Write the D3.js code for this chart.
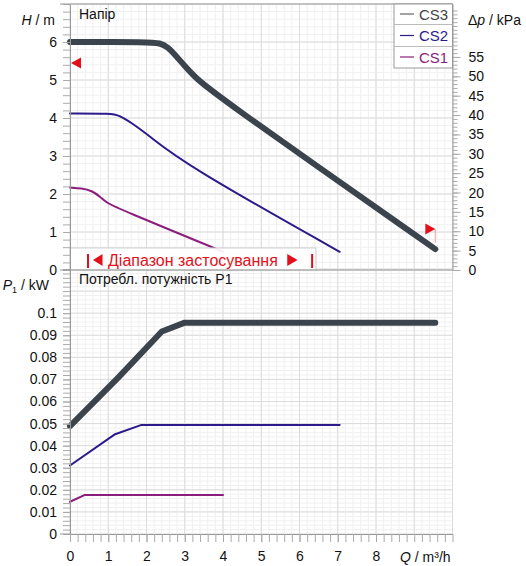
<!DOCTYPE html>
<html>
<head>
<meta charset="utf-8">
<script src="https://cdn.jsdelivr.net/npm/d3@7"></script>
<style>
  body { margin: 0; background: #fff; }
  text { font-family: "Liberation Sans", Arial, sans-serif; fill: #111; }
  .axis .domain { stroke: #999; }
  .axis line { stroke: #aaa; }
  .axis text { font-size: 14px; fill: #111; }
</style>
</head>
<body>
<script>
// series
const seriesNames = ["CS3", "CS2", "CS1"];
const seriesColors = ["#3b444c", "#2b1a8a", "#8b1d7d"];
const seriesWidths = [6, 2, 2];

// head curves H(Q)
const cs3HeadQ = [0, 2.09, 2.35, 2.55, 2.8, 3.0, 3.25, 3.6, 9.55];
const cs3HeadH = [6.0, 6.0, 5.97, 5.88, 5.6, 5.37, 5.1, 4.75, 0.55];
const cs2HeadQ = [0, 1.09, 1.3, 1.57, 2.05, 3.0, 7.05];
const cs2HeadH = [4.12, 4.12, 4.06, 3.9, 3.55, 2.78, 0.48];
const cs1HeadQ = [0, 0.3, 0.57, 0.8, 0.96, 1.26, 4.0];
const cs1HeadH = [2.17, 2.15, 2.09, 1.92, 1.77, 1.62, 0.48];

// power curves P1(Q)
const cs3PowerQ = [0, 1.26, 2.4, 3.0, 9.55];
const cs3PowerP = [0.0488, 0.0708, 0.0917, 0.0957, 0.0957];
const cs2PowerQ = [0, 1.18, 1.87, 7.05];
const cs2PowerP = [0.031, 0.0452, 0.0494, 0.0494];
const cs1PowerQ = [0, 0.39, 4.0];
const cs1PowerP = [0.0146, 0.0177, 0.0177];

// range markers (red arrows)
const markerQ = [0, 9.55];
const markerH = [5.45, 1.08];

// ticks
const qTicks = [0, 1, 2, 3, 4, 5, 6, 7, 8];
const headTicks = [0, 1, 2, 3, 4, 5, 6];
const dpTicks = [0, 5, 10, 15, 20, 25, 30, 35, 40, 45, 50, 55];
const powerTicks = [0, 0.01, 0.02, 0.03, 0.04, 0.05, 0.06, 0.07, 0.08, 0.09, 0.1];
const powerTickLabels = ["0", "0.01", "0.02", "0.03", "0.04", "0.05", "0.06", "0.07", "0.08", "0.09", "0.1"];

let width = 526, height = 566;

let svg = d3.select('body')
  .append('svg')
  .attr('width', width)
  .attr('height', height);

// scales
const x = d3.scaleLinear().domain([0, 10]).range([70, 452.5]);
const yH = d3.scaleLinear().domain([0, 7]).range([270, 4]);
const yDp = d3.scaleLinear().domain([0, 7 * 9.81]).range([270, 4]);
const yP = d3.scaleLinear().domain([0, 0.12]).range([534, 269]);

const minorQ = d3.range(0, 10.001, 0.2);
const minorH = d3.range(0, 7.001, 0.2);
const minorP = d3.range(0, 0.1201, 0.002);

// grids
function grid(yScale, minorY, majorY) {
  const g = svg.append("g");
  const [y0, y1] = yScale.range();
  g.selectAll(".mx").data(minorQ).enter().append("line")
    .attr("x1", d => x(d)).attr("x2", d => x(d))
    .attr("y1", y0).attr("y2", y1)
    .attr("stroke", "#f0f0f0");
  g.selectAll(".my").data(minorY).enter().append("line")
    .attr("x1", x(0)).attr("x2", x(10))
    .attr("y1", d => yScale(d)).attr("y2", d => yScale(d))
    .attr("stroke", "#f0f0f0");
  g.selectAll(".Mx").data(d3.range(0, 11, 1)).enter().append("line")
    .attr("x1", d => x(d)).attr("x2", d => x(d))
    .attr("y1", y0).attr("y2", y1)
    .attr("stroke", "#dcdcdc");
  g.selectAll(".My").data(majorY).enter().append("line")
    .attr("x1", x(0)).attr("x2", x(10))
    .attr("y1", d => yScale(d)).attr("y2", d => yScale(d))
    .attr("stroke", "#dcdcdc");
}
grid(yH, minorH, d3.range(0, 8, 1));
grid(yP, minorP, d3.range(0, 0.121, 0.01));

// curves (head curves are smoothed, power curves are polylines)
const headLine = d3.line().x(d => x(d[0])).y(d => yH(d[1])).curve(d3.curveBasis);
const powerLine = d3.line().x(d => x(d[0])).y(d => yP(d[1]));

const heads = [d3.zip(cs3HeadQ, cs3HeadH), d3.zip(cs2HeadQ, cs2HeadH), d3.zip(cs1HeadQ, cs1HeadH)];
const powers = [d3.zip(cs3PowerQ, cs3PowerP), d3.zip(cs2PowerQ, cs2PowerP), d3.zip(cs1PowerQ, cs1PowerP)];

heads.forEach((pts, i) => {
  svg.append("path").attr("d", headLine(pts))
    .attr("fill", "none").attr("stroke", seriesColors[i])
    .attr("stroke-width", seriesWidths[i])
    .attr("stroke-linecap", "round").attr("stroke-linejoin", "round");
});
powers.forEach((pts, i) => {
  svg.append("path").attr("d", powerLine(pts))
    .attr("fill", "none").attr("stroke", seriesColors[i])
    .attr("stroke-width", seriesWidths[i])
    .attr("stroke-linecap", "round").attr("stroke-linejoin", "round");
});

// application range box
svg.append("rect")
  .attr("x", x(0)).attr("y", yH(0.58))
  .attr("width", x(6.43) - x(0)).attr("height", yH(0) - yH(0.58))
  .attr("fill", "#fff").attr("fill-opacity", 0.92)
  .attr("stroke", "#ccc");
[0.47, 6.33].forEach(q => {
  svg.append("line")
    .attr("x1", x(q)).attr("x2", x(q))
    .attr("y1", 254).attr("y2", 268)
    .attr("stroke", "#e3101b").attr("stroke-width", 2);
});
svg.append("path")
  .attr("d", `M${x(0.6)},260 L${x(0.85)},254 L${x(0.85)},266 Z`)
  .attr("fill", "#e3101b");
svg.append("path")
  .attr("d", `M${x(5.95)},260 L${x(5.68)},254 L${x(5.68)},266 Z`)
  .attr("fill", "#e3101b");
svg.append("text")
  .attr("x", 108).attr("y", 265.5)
  .style("font-size", "16px").style("fill", "#e3101b")
  .text("Діапазон застосування");

// red markers
svg.append("path")
  .attr("d", `M${x(markerQ[0]) + 1},${yH(markerH[0])} l10,-5.5 l0,11 Z`)
  .attr("fill", "#e3101b");
svg.append("line")
  .attr("x1", x(markerQ[1])).attr("x2", x(markerQ[1]))
  .attr("y1", yH(markerH[1])).attr("y2", yH(0.72))
  .attr("stroke", "#e88").attr("stroke-width", 0.8);
svg.append("path")
  .attr("d", `M${x(markerQ[1])},${yH(markerH[1])} l-10,-5.5 l0,11 Z`)
  .attr("fill", "#e3101b");

// axes
function styleAxis(g) { g.attr("class", "axis"); }

svg.append("g").call(styleAxis)
  .attr("transform", `translate(${x(0)},0)`)
  .call(d3.axisLeft(yH).tickValues(minorH).tickSize(7).tickSizeOuter(0).tickFormat(""));
svg.append("g").call(styleAxis)
  .attr("transform", `translate(${x(0)},0)`)
  .call(d3.axisLeft(yH).tickValues(headTicks).tickSize(7).tickSizeOuter(0).tickPadding(6).tickFormat(d3.format("d")))
  .select(".domain").remove();

svg.append("g").call(styleAxis)
  .attr("transform", `translate(${x(0)},0)`)
  .call(d3.axisLeft(yP).tickValues(minorP).tickSize(7).tickSizeOuter(0).tickFormat(""));
svg.append("g").call(styleAxis)
  .attr("transform", `translate(${x(0)},0)`)
  .call(d3.axisLeft(yP).tickValues(powerTicks).tickSize(7).tickSizeOuter(0).tickPadding(6)
    .tickFormat((d, i) => powerTickLabels[i]))
  .select(".domain").remove();

svg.append("g").call(styleAxis)
  .attr("transform", `translate(${x(10)},0)`)
  .call(d3.axisRight(yDp).tickValues(d3.range(0, 68, 1)).tickSize(5).tickSizeOuter(0).tickFormat(""));
svg.append("g").call(styleAxis)
  .attr("transform", `translate(${x(10)},0)`)
  .call(d3.axisRight(yDp).tickValues(dpTicks).tickSize(8).tickSizeOuter(0).tickPadding(8).tickFormat(d3.format("d")))
  .select(".domain").remove();

svg.append("g").call(styleAxis)
  .attr("transform", `translate(0,${yP(0)})`)
  .call(d3.axisBottom(x).tickValues(minorQ).tickSize(8).tickSizeOuter(0).tickFormat(""));
svg.append("g").call(styleAxis)
  .attr("transform", `translate(0,${yP(0)})`)
  .call(d3.axisBottom(x).tickValues(qTicks).tickSize(8).tickSizeOuter(0).tickPadding(9).tickFormat(d3.format("d")))
  .select(".domain").remove();

// frame lines
[[60, x(10), 4, 4], [60, x(10), yH(0), yH(0)], [60, x(0), yP(0), yP(0)]].forEach(l => {
  svg.append("line")
    .attr("x1", l[0]).attr("x2", l[1]).attr("y1", l[2]).attr("y2", l[3])
    .attr("stroke", "#999");
});

// axis titles
svg.append("text").attr("x", 79).attr("y", 19).style("font-size", "14px").text("Напір");
svg.append("text").attr("x", 79).attr("y", 284).style("font-size", "14px").text("Потребл. потужність P1");

const hLab = svg.append("text").attr("x", 55).attr("y", 25).style("font-size", "14px").style("text-anchor", "end");
hLab.append("tspan").style("font-style", "italic").text("H");
hLab.append("tspan").text(" / m");

const dpLab = svg.append("text").attr("x", 468).attr("y", 25).style("font-size", "14px");
dpLab.append("tspan").text("Δ");
dpLab.append("tspan").style("font-style", "italic").text("p");
dpLab.append("tspan").text(" / kPa");

const pLab = svg.append("text").attr("x", 49).attr("y", 290).style("font-size", "14px").style("text-anchor", "end");
pLab.append("tspan").style("font-style", "italic").text("P");
pLab.append("tspan").attr("dy", 3).style("font-size", "9px").text("1");
pLab.append("tspan").attr("dy", -3).text("  / kW");

const qLab = svg.append("text").attr("x", 400).attr("y", 562).style("font-size", "14px");
qLab.append("tspan").style("font-style", "italic").text("Q");
qLab.append("tspan").text(" / m³/h");

// legend
const legend = svg.append("g");
legend.append("rect")
  .attr("x", 394).attr("y", 4).attr("width", x(10) - 394).attr("height", 64)
  .attr("fill", "#fff").attr("stroke", "#999");
[24.5, 46.5].forEach(yy => {
  legend.append("line").attr("x1", 394).attr("x2", x(10)).attr("y1", yy).attr("y2", yy).attr("stroke", "#bbb");
});
const legendText = ["#444", "#2b1a8a", "#8b1d7d"];
const legendLine = ["#666", "#2b1a8a", "#8b1d7d"];
seriesNames.forEach((name, i) => {
  const cy = 14 + i * 21.5;
  legend.append("line").attr("x1", 400).attr("x2", 414).attr("y1", cy).attr("y2", cy)
    .attr("stroke", legendLine[i]).attr("stroke-width", 1.2);
  legend.append("text").attr("x", 419).attr("y", cy + 5.5)
    .style("font-size", "15px").style("fill", legendText[i]).text(name);
});
</script>
</body>
</html>
